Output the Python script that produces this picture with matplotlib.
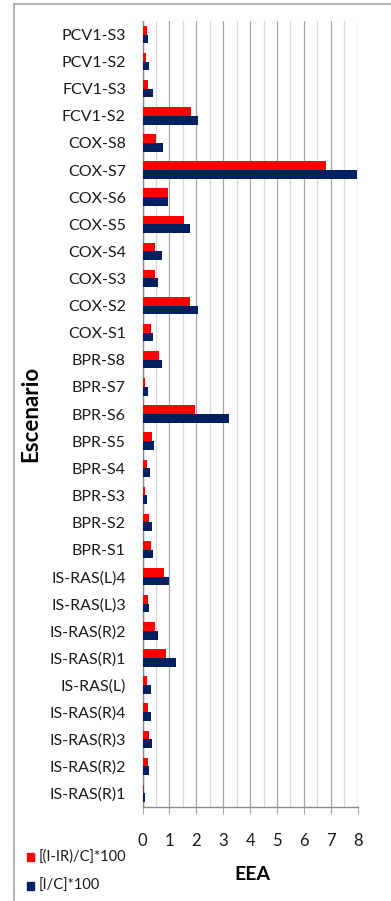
import matplotlib
matplotlib.use("Agg")
import matplotlib.pyplot as plt
import numpy as np
from matplotlib.patches import Rectangle
from matplotlib.lines import Line2D

plt.rcParams['font.family'] = ['Lato', 'DejaVu Sans']

# Scenarios listed from bottom to top
scenarios = [
    "IS-RAS(R)1", "IS-RAS(R)2", "IS-RAS(R)3", "IS-RAS(R)4", "IS-RAS(L)",
    "IS-RAS(R)1", "IS-RAS(R)2", "IS-RAS(L)3", "IS-RAS(L)4",
    "BPR-S1", "BPR-S2", "BPR-S3", "BPR-S4", "BPR-S5", "BPR-S6", "BPR-S7", "BPR-S8",
    "COX-S1", "COX-S2", "COX-S3", "COX-S4", "COX-S5", "COX-S6", "COX-S7", "COX-S8",
    "FCV1-S2", "FCV1-S3", "PCV1-S2", "PCV1-S3",
]

# [(I-IR)/C]*100
eea_reduced = [
    0.07, 0.19, 0.24, 0.19, 0.15,
    0.87, 0.47, 0.19, 0.80,
    0.30, 0.24, 0.10, 0.15, 0.35, 1.97, 0.10, 0.62,
    0.30, 1.78, 0.47, 0.48, 1.55, 0.94, 6.81, 0.51,
    1.82, 0.21, 0.12, 0.16,
]

# [I/C]*100
eea_total = [
    0.11, 0.24, 0.35, 0.30, 0.32,
    1.24, 0.57, 0.24, 0.97,
    0.40, 0.37, 0.15, 0.27, 0.42, 3.22, 0.19, 0.73,
    0.40, 2.06, 0.57, 0.71, 1.76, 0.94, 7.96, 0.76,
    2.06, 0.40, 0.24, 0.21,
]

series_labels = ["[(I-IR)/C]*100", "[I/C]*100"]
x_ticks = [0, 1, 2, 3, 4, 5, 6, 7, 8]

RED = "#ff0000"
NAVY = "#002060"

W, H = 391, 901
fig = plt.figure(figsize=(W / 100, H / 100), dpi=100)

# Chart frame (left and top edges)
fig.add_artist(Line2D([14 / W, 14 / W], [0, 1 - 4 / H], color="#a6a6a6", lw=1.2,
                      transform=fig.transFigure))
fig.add_artist(Line2D([14 / W, 1], [1 - 4 / H, 1 - 4 / H], color="#a6a6a6", lw=1.2,
                      transform=fig.transFigure))

left, right = 142.5 / W, 357.7 / W
bottom, top = (H - 807) / H, (H - 21) / H
ax = fig.add_axes([left, bottom, right - left, top - bottom])

y = np.arange(len(scenarios))
h = 0.32
ax.barh(y + h / 2, eea_reduced, height=h, color=RED, zorder=3)
ax.barh(y - h / 2, eea_total, height=h, color=NAVY, zorder=3)

ax.set_xlim(0, 8)
ax.set_ylim(-0.5, len(scenarios) - 0.5)
ax.set_xticks(x_ticks)
ax.set_xticks(np.arange(0.5, 8, 1.0), minor=True)
ax.grid(True, axis="x", which="major", color="#a6a6a6", lw=0.9, zorder=0)
ax.grid(True, axis="x", which="minor", color="#d9d9d9", lw=0.9, zorder=0)

ax.set_yticks(y)
ax.set_yticklabels(scenarios, fontsize=11.5, color="#1a1a1a")
ax.tick_params(axis="y", length=0, pad=12)
ax.tick_params(axis="x", which="major", length=5, color="#a6a6a6", labelsize=12,
               pad=14, labelcolor="#1a1a1a")
ax.tick_params(axis="x", which="minor", length=0)

for side in ["top", "right"]:
    ax.spines[side].set_visible(False)
for side in ["left", "bottom"]:
    ax.spines[side].set_color("#8c8c8c")
    ax.spines[side].set_linewidth(1.0)

fig.text(252 / W, 1 - 874 / H, "EEA", fontsize=14, fontweight="bold",
         ha="center", va="center")
fig.text(31 / W, 1 - 414 / H, "Escenario", fontsize=16, fontweight="bold",
         ha="center", va="center", rotation=90)

# Legend
for i, (lab, col) in enumerate(zip(series_labels, [RED, NAVY])):
    yc = 857 + i * 29
    fig.add_artist(Rectangle((27 / W, 1 - (yc + 4) / H), 7 / W, 8 / H, color=col,
                             transform=fig.transFigure))
    fig.text(39 / W, 1 - yc / H, lab, fontsize=10.5, ha="left", va="center",
             color="#1a1a1a")

fig.savefig("out.png", dpi=100)
